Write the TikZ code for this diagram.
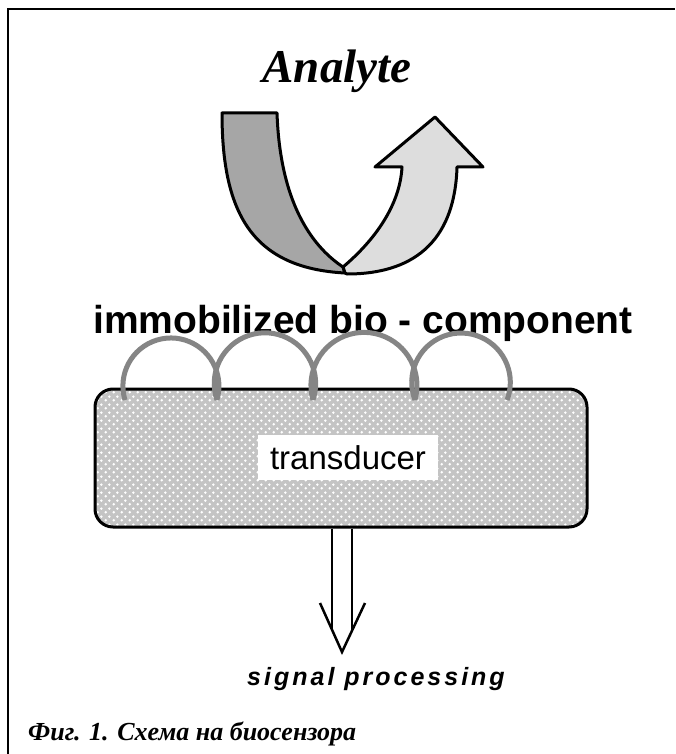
\documentclass[tikz,border=0pt]{standalone}
\usepackage{fontspec}
\setmainfont{Liberation Serif}
\setsansfont{Liberation Sans}
\newfontfamily\sigfont[LetterSpace=12]{Liberation Sans}
\usetikzlibrary{patterns.meta}
\tikzdeclarepattern{
  name=wdots,
  type=uncolored,
  bounding box={(0pt,0pt) and (8pt,8pt)},
  tile size={(8pt,8pt)},
  code={
    \fill (2pt,2pt) circle[radius=1.5pt];
    \fill (6pt,6pt) circle[radius=1.5pt];
  }
}
\definecolor{darkband}{HTML}{A6A6A6}
\definecolor{lightband}{HTML}{DDDDDD}
\definecolor{boxgray}{HTML}{C4C4C4}
\definecolor{armgray}{HTML}{858585}
\tikzset{
  band/.style={draw=black, line width=3pt, line join=round},
  bioarm/.style={draw=armgray, line width=5pt},
  shaft/.style={draw=black, line width=2.5pt},
}
\begin{document}
\begin{tikzpicture}[x=1pt,y=-1pt]
\useasboundingbox (0,0) rectangle (675,754);
% frame
\draw[line width=2pt] (8,754) -- (8,9) -- (675,9);
% title
\node[anchor=base, inner sep=0, font=\fontsize{47}{50}\selectfont\bfseries\itshape] (analyte) at (337,83) {Analyte};
% curved analyte arrow
\path[band, fill=darkband] (222,113) -- (277,113)
  .. controls (280,200) and (310,245) .. (343,267)
  -- (345,273)
  .. controls (250,268) and (222,210) .. (222,113) -- cycle;
\path[band, fill=lightband] (343,267)
  .. controls (375,240) and (400,205) .. (402,167)
  -- (375,167) -- (435,117) -- (483,167) -- (457,167)
  .. controls (455,235) and (420,274) .. (347,274)
  -- (345,273) -- cycle;
% bio-component label
\node[anchor=base, inner sep=0, font=\sffamily\bfseries\fontsize{39}{40}\selectfont] (bio) at (363,333) {immobilized bio - component};
% transducer body
\node[draw=black, line width=3pt, rounded corners=18pt, minimum width=492pt, minimum height=138pt,
  preaction={fill=boxgray}, pattern=wdots, pattern color=white] (box) at (341,458) {};
\node[fill=white, inner sep=0, minimum width=180pt, minimum height=45pt, font=\sffamily\fontsize{33}{34}\selectfont] (trans) at (348,457.5) {transducer};
% bio-component arms
\draw[bioarm] (125,400) arc[start angle=163, end angle=377, radius=48];
\draw[bioarm] (217,400) arc[start angle=161, end angle=379, radius=50.7];
\draw[bioarm] (313,400) arc[start angle=164, end angle=376, radius=53];
\draw[bioarm] (415,400) arc[start angle=159, end angle=381, radius=49.3];
% signal arrow
\coordinate (tip) at (342,652);
\coordinate (lb) at (320,603);
\coordinate (rb) at (365,603);
\draw[shaft] (box.south -| 332,0) -- (332,631);
\draw[shaft] (box.south -| 352,0) -- (352,631);
\draw[shaft, line join=miter] (lb) -- (tip) -- (rb);
\node[anchor=base, inner sep=0, font=\sigfont\bfseries\itshape\fontsize{25}{26}\selectfont] (sig) at (376,685) {signal processing};
% caption
\node[anchor=base west, inner sep=0, font=\bfseries\itshape\fontsize{26}{27}\selectfont] (cap) at (28,740) {Фиг. 1. Схема на биосензора};
\end{tikzpicture}
\end{document}
